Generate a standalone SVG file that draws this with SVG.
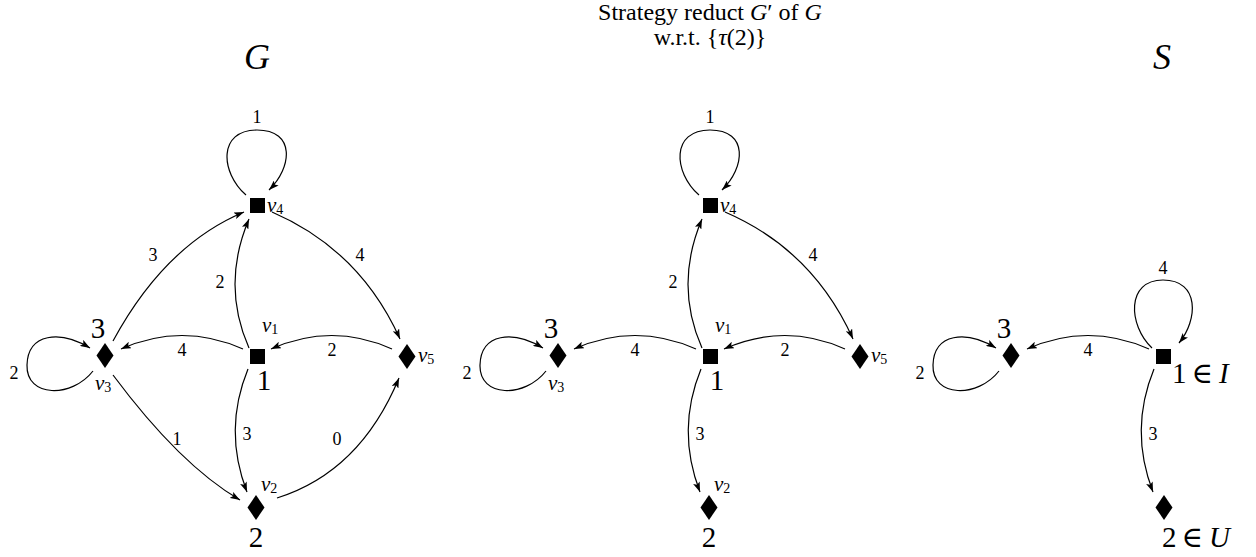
<svg xmlns="http://www.w3.org/2000/svg" width="1256" height="557" viewBox="0 0 1256 557">
<defs>
<style>
.e{fill:none;stroke:#000;stroke-width:1.2;marker-end:url(#arr)}
text{font-family:"Liberation Serif","DejaVu Serif",serif;fill:#000}
.l{font-size:18px;text-anchor:middle}
.sc{font-size:29px;text-anchor:middle}
.vn{font-size:21px;font-style:italic}
.sub{font-size:14px;font-style:normal}
.ttl{font-size:36px;font-style:italic;text-anchor:middle}
.hd{font-size:24px;text-anchor:middle}
.it{font-style:italic}
</style>
<marker id="arr" viewBox="0 0 10 7" refX="10" refY="3.5" markerWidth="10" markerHeight="7" markerUnits="userSpaceOnUse" orient="auto"><path d="M0,0 L10,3.5 L0,7 L2.2,3.5 z" fill="#000"/></marker>
</defs>
<rect width="1256" height="557" fill="#fff"/>

<g id="titles">
<text class="ttl" x="257" y="69">G</text>
<text class="hd" x="710" y="20">Strategy reduct <tspan class="it">G</tspan>′ of <tspan class="it">G</tspan></text>
<text class="hd" x="710" y="45">w.r.t. {<tspan class="it">τ</tspan>(2)}</text>
<text class="ttl" x="1162" y="69">S</text>
</g>

<!-- Graph G -->
<g id="graph-G">
<g id="G-edges">
<path class="e" d="M246 195 C220 172,218 130,257 130 C296 130,292 168,269 190"/>
<path class="e" d="M249 348 Q221 285 249 219"/>
<path class="e" d="M113 341 Q165 245 244 212"/>
<path class="e" d="M272 212 Q360 250 400 339"/>
<path class="e" d="M243 349 Q182 322 121 349"/>
<path class="e" d="M392 349 Q332 322 271 349"/>
<path class="e" d="M93 371 C72 398,26 398,27 365 C28 333,60 330,90 348"/>
<path class="e" d="M113 375 Q180 465 240 500"/>
<path class="e" d="M248 369 Q223 430 247 492"/>
<path class="e" d="M277 498 Q360 472 399 378"/>
<text class="l" x="257" y="123">1</text>
<text class="l" x="220" y="288">2</text>
<text class="l" x="153" y="261">3</text>
<text class="l" x="360" y="261">4</text>
<text class="l" x="182" y="356">4</text>
<text class="l" x="332" y="356">2</text>
<text class="l" x="14" y="379">2</text>
<text class="l" x="177" y="445">1</text>
<text class="l" x="247" y="440">3</text>
<text class="l" x="337" y="445">0</text>
</g>
<g id="G-v1"><rect x="250" y="349" width="15" height="15"/><text class="vn" x="262" y="332">v<tspan class="sub" dy="2">1</tspan></text><text class="sc" x="264" y="390">1</text></g>
<g id="G-v2"><path d="M256 495 L264.5 507.5 L256 520 L247.5 507.5 z"/><text class="vn" x="261" y="491">v<tspan class="sub" dy="2">2</tspan></text><text class="sc" x="256" y="547">2</text></g>
<g id="G-v3"><path d="M105 343 L113.5 355.5 L105 368 L96.5 355.5 z"/><text class="vn" x="95" y="390">v<tspan class="sub" dy="2">3</tspan></text><text class="sc" x="98" y="338">3</text></g>
<g id="G-v4"><rect x="250" y="198" width="15" height="15"/><text class="vn" x="267" y="212">v<tspan class="sub" dy="2">4</tspan></text></g>
<g id="G-v5"><path d="M407 344 L415.5 356.5 L407 369 L398.5 356.5 z"/><text class="vn" x="418" y="362">v<tspan class="sub" dy="2">5</tspan></text></g>
</g>

<!-- Graph G' -->
<g id="graph-Gp" transform="translate(453,0)">
<g id="Gp-edges">
<path class="e" d="M246 195 C220 172,218 130,257 130 C296 130,292 168,269 190"/>
<path class="e" d="M249 348 Q221 285 249 219"/>
<path class="e" d="M272 212 Q360 250 400 339"/>
<path class="e" d="M243 349 Q182 322 121 349"/>
<path class="e" d="M392 349 Q332 322 271 349"/>
<path class="e" d="M93 371 C72 398,26 398,27 365 C28 333,60 330,90 348"/>
<path class="e" d="M248 369 Q223 430 247 492"/>
<text class="l" x="257" y="123">1</text>
<text class="l" x="220" y="288">2</text>
<text class="l" x="360" y="261">4</text>
<text class="l" x="182" y="356">4</text>
<text class="l" x="332" y="356">2</text>
<text class="l" x="14" y="379">2</text>
<text class="l" x="247" y="440">3</text>
</g>
<g id="Gp-v1"><rect x="250" y="349" width="15" height="15"/><text class="vn" x="262" y="332">v<tspan class="sub" dy="2">1</tspan></text><text class="sc" x="264" y="390">1</text></g>
<g id="Gp-v2"><path d="M256 495 L264.5 507.5 L256 520 L247.5 507.5 z"/><text class="vn" x="261" y="491">v<tspan class="sub" dy="2">2</tspan></text><text class="sc" x="256" y="547">2</text></g>
<g id="Gp-v3"><path d="M105 343 L113.5 355.5 L105 368 L96.5 355.5 z"/><text class="vn" x="95" y="390">v<tspan class="sub" dy="2">3</tspan></text><text class="sc" x="98" y="338">3</text></g>
<g id="Gp-v4"><rect x="250" y="198" width="15" height="15"/><text class="vn" x="267" y="212">v<tspan class="sub" dy="2">4</tspan></text></g>
<g id="Gp-v5"><path d="M407 344 L415.5 356.5 L407 369 L398.5 356.5 z"/><text class="vn" x="418" y="362">v<tspan class="sub" dy="2">5</tspan></text></g>
</g>

<!-- Graph S -->
<g id="graph-S" transform="translate(906,0)">
<g id="S-edges">
<path class="e" d="M246 348 C222 325,220 280,257 280 C294 280,292 320,273 343"/>
<path class="e" d="M243 349 Q182 322 121 349"/>
<path class="e" d="M93 371 C72 398,26 398,27 365 C28 333,60 330,90 348"/>
<path class="e" d="M248 369 Q223 430 247 492"/>
<text class="l" x="257" y="274">4</text>
<text class="l" x="182" y="356">4</text>
<text class="l" x="14" y="379">2</text>
<text class="l" x="247" y="440">3</text>
</g>
<g id="S-1"><rect x="250" y="349" width="15" height="15"/><text class="sc" x="266" y="383" style="text-anchor:start">1<tspan dx="5">∈</tspan><tspan class="it" dx="6">I</tspan></text></g>
<g id="S-2"><path d="M258 495 L266.5 507.5 L258 520 L249.5 507.5 z"/><text class="sc" x="256" y="547" style="text-anchor:start">2<tspan dx="5">∈</tspan><tspan class="it" dx="6">U</tspan></text></g>
<g id="S-3"><path d="M105 343 L113.5 355.5 L105 368 L96.5 355.5 z"/><text class="sc" x="98" y="338">3</text></g>
</g>
</svg>
